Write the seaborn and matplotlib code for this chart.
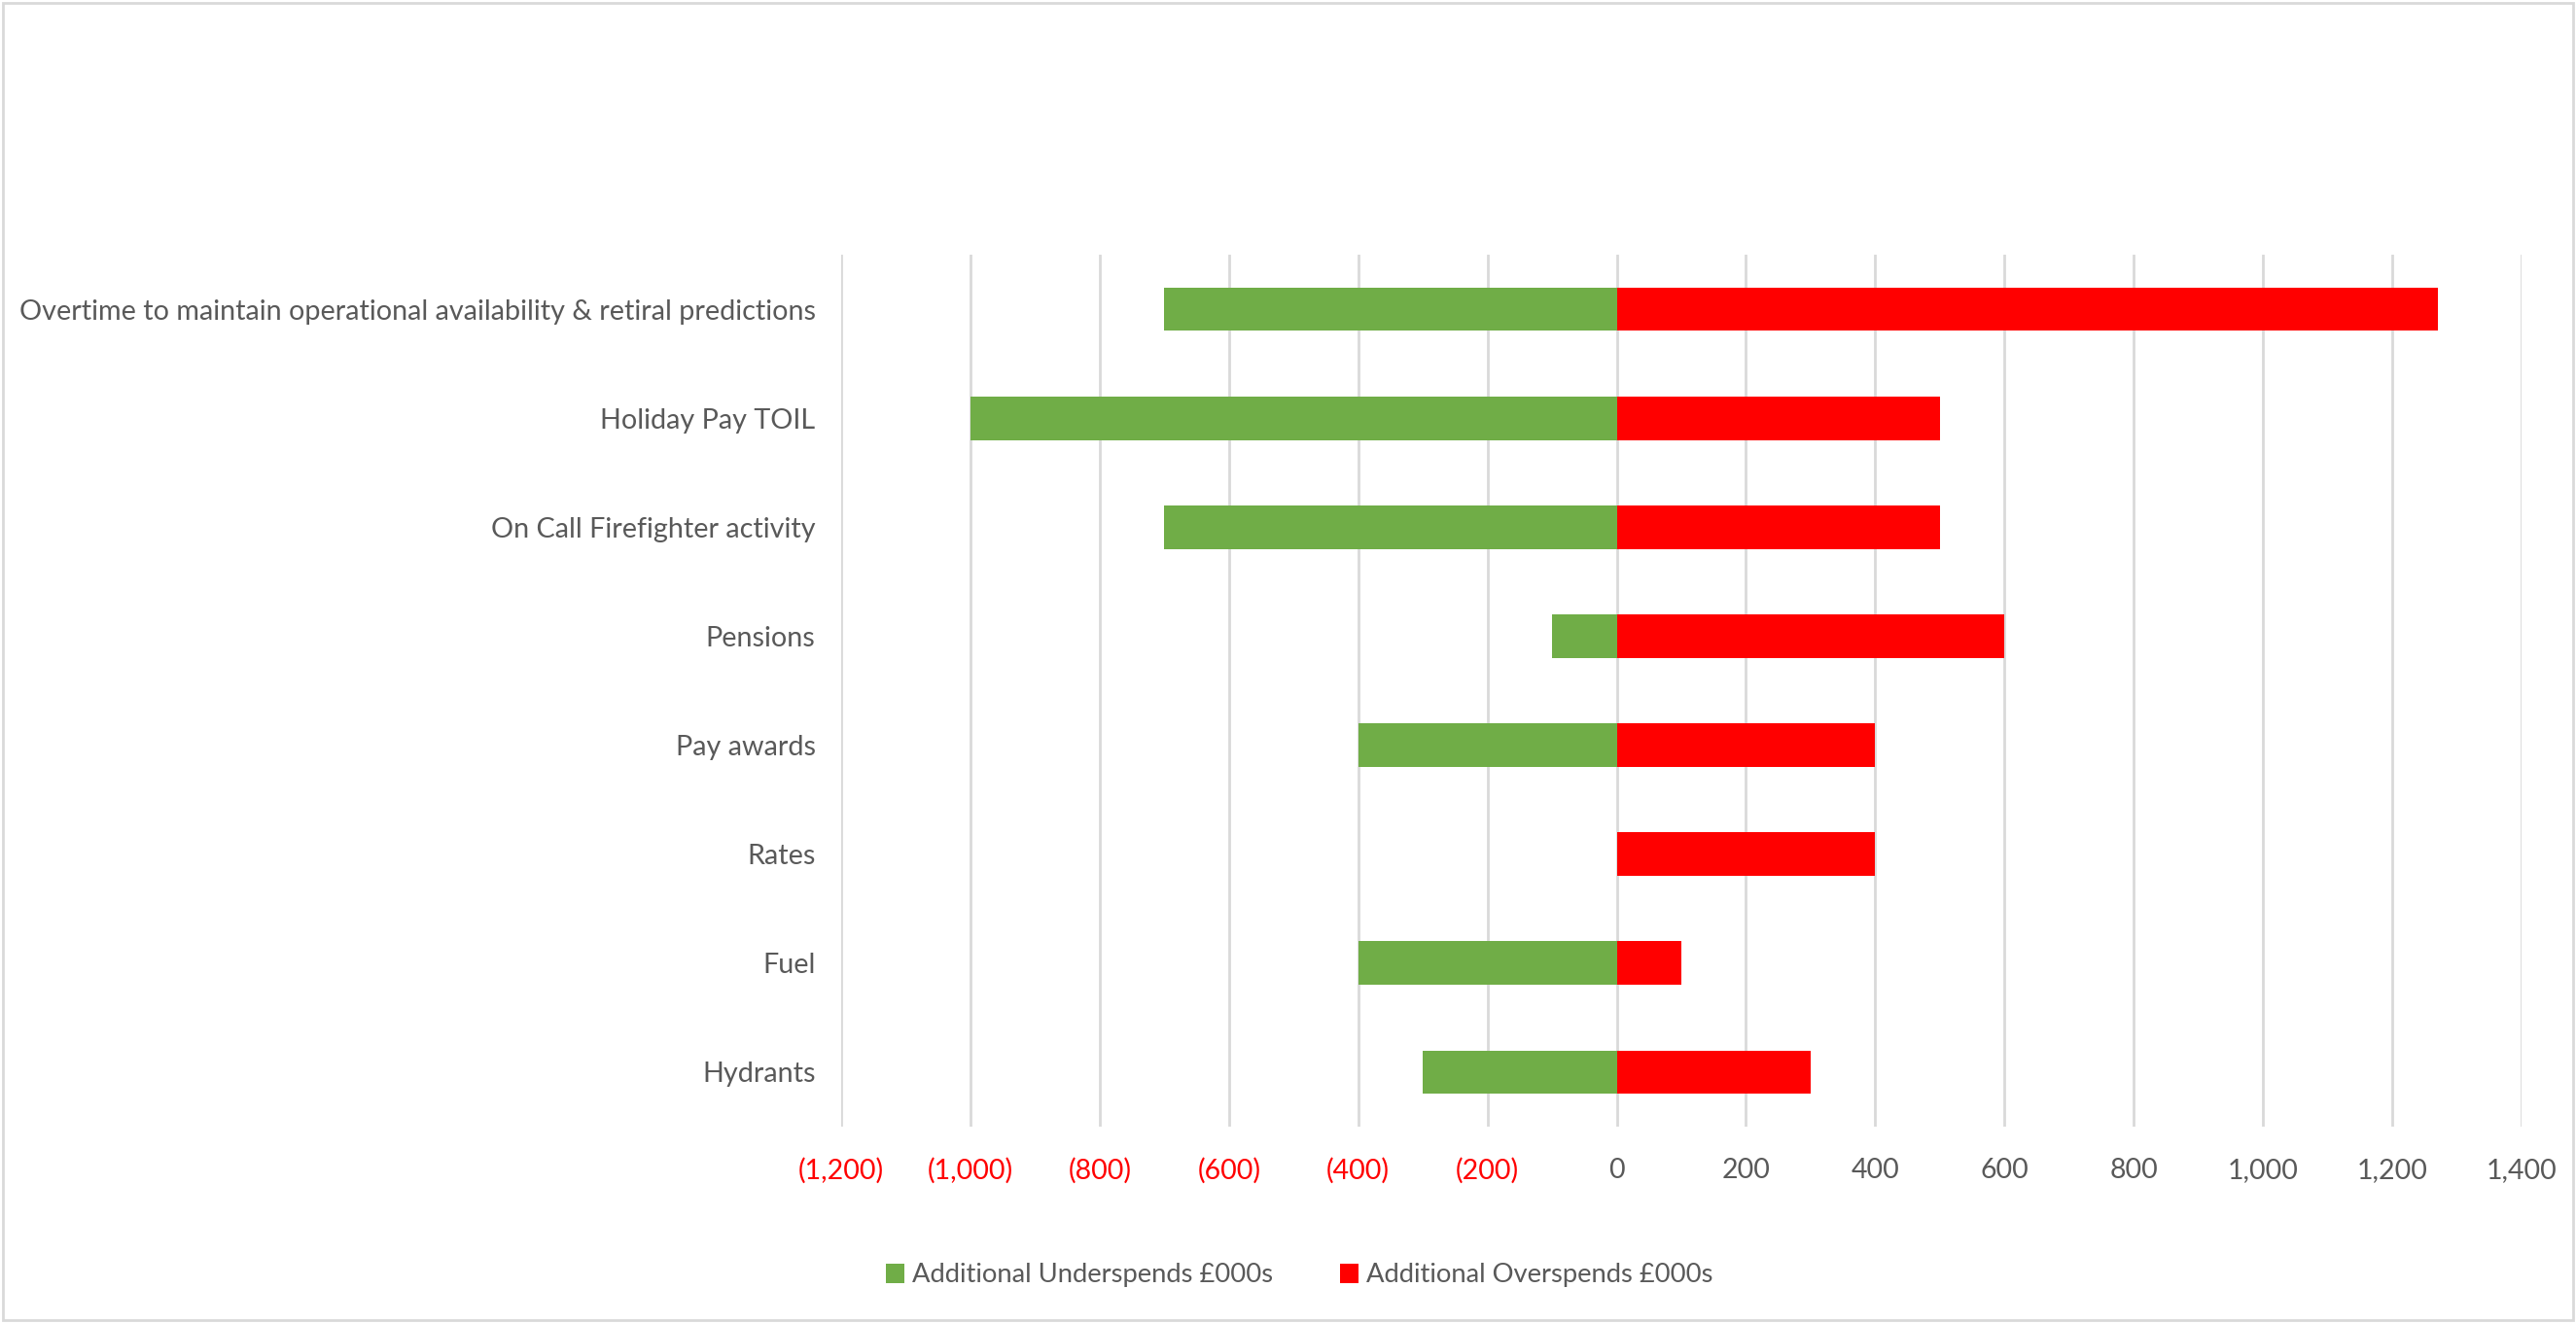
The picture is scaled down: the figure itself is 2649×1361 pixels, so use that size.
import matplotlib
matplotlib.use("Agg")
import matplotlib.pyplot as plt
from matplotlib.patches import Rectangle, Patch
from matplotlib.ticker import FuncFormatter
import seaborn as sns
import pandas as pd

categories = [
    "Overtime to maintain operational availability & retiral predictions",
    "Holiday Pay TOIL",
    "On Call Firefighter activity",
    "Pensions",
    "Pay awards",
    "Rates",
    "Fuel",
    "Hydrants",
]
underspends = [-700, -1000, -700, -100, -400, 0, -400, -300]
overspends = [1270, 500, 500, 600, 400, 400, 100, 300]
series_names = ["Additional Underspends £000s", "Additional Overspends £000s"]
series_colors = ["#70AD47", "#FF0000"]
x_ticks = list(range(-1200, 1401, 200))

df = pd.concat([
    pd.DataFrame({"item": categories, "value": underspends, "series": series_names[0]}),
    pd.DataFrame({"item": categories, "value": overspends, "series": series_names[1]}),
])

sns.set_theme(style="white")
plt.rcParams["font.family"] = ["Lato", "DejaVu Sans"]

text_grey = "#595959"
fig = plt.figure(figsize=(26.49, 13.61), dpi=100)
ax = fig.add_axes([865 / 2649, 1 - 1159 / 1361, (2593 - 865) / 2649, (1159 - 262) / 1361])

sns.barplot(
    data=df, x="value", y="item", hue="series", order=categories,
    hue_order=series_names, palette=dict(zip(series_names, series_colors)),
    dodge=False, width=0.4, orient="h", ax=ax, legend=False,
    saturation=1, linewidth=0,
)

ax.set_xlim(-1200, 1400)
ax.set_xticks(x_ticks)
ax.xaxis.set_major_formatter(FuncFormatter(
    lambda v, p: f"({abs(v):,.0f})" if v < 0 else f"{v:,.0f}"))
ax.grid(axis="x", color="#D9D9D9", linewidth=2)
ax.grid(axis="y", visible=False)
ax.set_axisbelow(True)
for s in ax.spines.values():
    s.set_visible(False)
ax.set_xlabel("")
ax.set_ylabel("")
ax.tick_params(axis="x", length=0, pad=23, labelsize=20.5, labelcolor=text_grey)
ax.tick_params(axis="y", length=0, pad=19, labelsize=20.7, labelcolor=text_grey)
for lbl, v in zip(ax.get_xticklabels(), x_ticks):
    if v < 0:
        lbl.set_color("#FF0000")

handles = [Patch(facecolor=c, edgecolor="none") for c in series_colors]
fig.legend(handles, series_names, loc="center", bbox_to_anchor=(0.5045, 1 - 1312 / 1361),
           ncol=2, frameon=False, fontsize=19.7, labelcolor=text_grey,
           handlelength=0.7, handleheight=0.7, handletextpad=0.3, columnspacing=2.5)

fig.patches.append(Rectangle((3 / 2649, 3 / 1361), 1 - 6 / 2649, 1 - 6 / 1361,
                             transform=fig.transFigure, fill=False,
                             edgecolor="#D9D9D9", linewidth=2))

fig.savefig("out.png", dpi=100)
